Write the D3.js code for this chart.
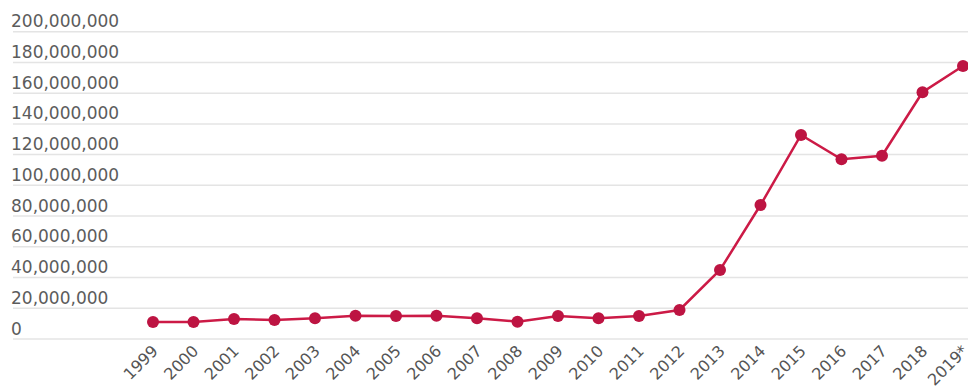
<!DOCTYPE html>
<html>
<head>
<meta charset="utf-8">
<script src="https://cdn.jsdelivr.net/npm/d3@7"></script>
<style>
  body { margin: 0; background: #fff; }
  svg { display: block; }
</style>
</head>
<body>
<div id="chart"></div>
<script>
// data
var years = ["1999","2000","2001","2002","2003","2004","2005","2006","2007","2008",
             "2009","2010","2011","2012","2013","2014","2015","2016","2017","2018","2019*"];
var values = [11100000, 11000000, 13000000, 12400000, 13500000, 15200000, 15000000, 15200000,
              13500000, 11300000, 15000000, 13500000, 15000000, 18900000, 44900000, 87200000,
              132800000, 117000000, 119300000, 160600000, 177700000];
var yTicks = [0, 20000000, 40000000, 60000000, 80000000, 100000000, 120000000,
              140000000, 160000000, 180000000, 200000000];

var w = 968, h = 388;

var svg = d3.select("#chart").append("svg")
    .attr("width", w)
    .attr("height", h);

var x = d3.scalePoint()
    .domain(years)
    .range([153, 963]);

var y = d3.scaleLinear()
    .domain([0, 200000000])
    .range([339, 31.7]);

var fmt = d3.format(",");

// grid lines + labels
var grid = svg.append("g")
    .selectAll("g")
    .data(yTicks)
    .enter()
    .append("g");

grid.append("line")
    .attr("x1", 13)
    .attr("x2", w)
    .attr("y1", function(d) { return y(d); })
    .attr("y2", function(d) { return y(d); })
    .attr("stroke", "#e4e4e4")
    .attr("stroke-width", 1.5);

grid.append("text")
    .attr("x", 11)
    .attr("y", function(d) { return y(d) - 4.5; })
    .text(function(d) { return fmt(d); })
    .style("font-family", "'DejaVu Sans', sans-serif")
    .style("font-size", "17px")
    .style("fill", "#5c5c5c");

// x labels (last one runs off the edge, as in the original)
svg.append("g")
    .selectAll("text")
    .data(years)
    .enter()
    .append("text")
    .attr("transform", function(d) {
        return "translate(" + (x(d) + 6) + ",352) rotate(-45)";
    })
    .attr("text-anchor", "end")
    .text(function(d) { return d; })
    .style("font-family", "'DejaVu Sans', sans-serif")
    .style("font-size", "16px")
    .style("fill", "#555");

// line
var line = d3.line()
    .x(function(d, i) { return x(years[i]); })
    .y(function(d) { return y(d); });

svg.append("path")
    .datum(values)
    .attr("d", line)
    .attr("fill", "none")
    .attr("stroke", "#cc1a46")
    .attr("stroke-width", 2.5);

svg.append("g")
    .selectAll("circle")
    .data(values)
    .enter()
    .append("circle")
    .attr("cx", function(d, i) { return x(years[i]); })
    .attr("cy", function(d) { return y(d); })
    .attr("r", 6)
    .attr("fill", "#bd1442");
</script>
</body>
</html>
